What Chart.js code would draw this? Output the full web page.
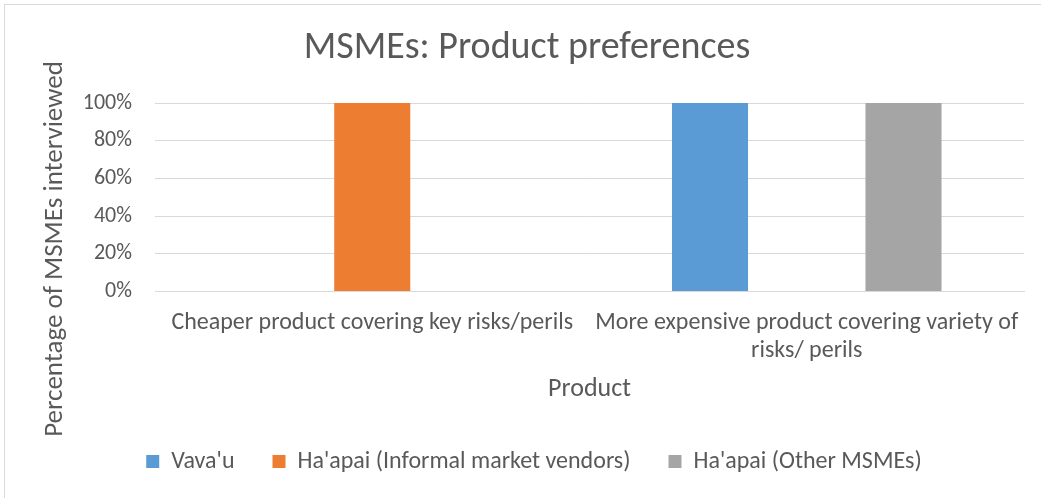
<!DOCTYPE html>
<html>
<head>
<meta charset="utf-8">
<script src="https://cdn.jsdelivr.net/npm/chart.js@4/dist/chart.umd.min.js"></script>
<style>
  html, body { margin: 0; padding: 0; background: #fff; }
  #wrap { position: relative; width: 1041px; height: 498px; }
</style>
</head>
<body>
<div id="wrap"><canvas id="productChart"></canvas></div>
<script>
// chart data
const categories = [
    ['Cheaper product covering key risks/perils'],
    ['More expensive product covering variety of', 'risks/ perils']
];
const seriesNames = ["Vava'u", "Ha'apai (Informal market vendors)", "Ha'apai (Other MSMEs)"];
const vavau = [0, 100];
const haapaiInformal = [100, 0];
const haapaiOther = [0, 100];
const yTicks = [0, 20, 40, 60, 80, 100];

const FONT = "Carlito, Calibri, Lato, 'Open Sans', sans-serif";
const TEXT = '#595959';
const GRID = '#d9d9d9';

// outer frame, legend nudge and rotated y title (Excel centres it on the whole plot block)
const framePlugin = {
    id: 'frame',
    afterLayout(chart) {
        chart.legend.left += 7;
        chart.legend.right += 7;
    },
    beforeDraw(chart) {
        const ctx = chart.ctx;
        ctx.save();
        ctx.fillStyle = '#fff';
        ctx.fillRect(0, 0, chart.width, chart.height);
        ctx.strokeStyle = GRID;
        ctx.lineWidth = 1;
        ctx.strokeRect(4.5, 4.5, chart.width + 20, chart.height + 20);
        ctx.restore();
    },
    afterDraw(chart) {
        const ctx = chart.ctx;
        ctx.save();
        ctx.translate(55, 249);
        ctx.rotate(-Math.PI / 2);
        ctx.font = '27px ' + FONT;
        ctx.fillStyle = TEXT;
        ctx.textAlign = 'center';
        ctx.textBaseline = 'middle';
        ctx.fillText('Percentage of MSMEs interviewed', 0, 0);
        ctx.restore();
    }
};

const colors = ['#5b9bd5', '#ed7d31', '#a5a5a5'];
const datasets = [vavau, haapaiInformal, haapaiOther].map((values, i) => ({
    label: seriesNames[i],
    data: values,
    backgroundColor: colors[i],
    borderWidth: 0,
    categoryPercentage: 0.668,
    barPercentage: 0.786
}));

new Chart(document.getElementById('productChart'), {
    type: 'bar',
    data: { labels: categories, datasets },
    plugins: [framePlugin],
    options: {
        responsive: true,
        maintainAspectRatio: false,
        animation: false,
        layout: { padding: { left: 30, right: 17, top: 12, bottom: 14.5 } },
        scales: {
            x: {
                grid: { display: false, drawTicks: false },
                border: { color: GRID },
                ticks: {
                    color: TEXT,
                    font: { family: FONT, size: 24, lineHeight: 1.2 },
                    padding: 16.6,
                    maxRotation: 0,
                    autoSkip: false
                },
                title: {
                    display: true,
                    text: 'Product',
                    color: TEXT,
                    font: { family: FONT, size: 26 },
                    padding: { top: -9, bottom: 6.9 }
                }
            },
            y: {
                min: 0,
                max: 100,
                afterBuildTicks: axis => { axis.ticks = yTicks.map(v => ({ value: v })); },
                afterFit: axis => { axis.width = 125; },
                grid: { color: GRID, drawTicks: false },
                border: { display: false },
                ticks: {
                    color: TEXT,
                    font: { family: FONT, size: 22 },
                    padding: 23,
                    callback: v => v + '%'
                }
            }
        },
        plugins: {
            title: {
                display: true,
                text: 'MSMEs: Product preferences',
                color: TEXT,
                font: { family: FONT, size: 38, weight: 'normal' },
                padding: { top: 14, bottom: 31.4 }
            },
            legend: {
                position: 'bottom',
                labels: {
                    color: TEXT,
                    font: { family: FONT, size: 24 },
                    boxWidth: 13,
                    boxHeight: 13,
                    padding: 38
                }
            },
            tooltip: { enabled: false }
        }
    }
});
</script>
</body>
</html>
